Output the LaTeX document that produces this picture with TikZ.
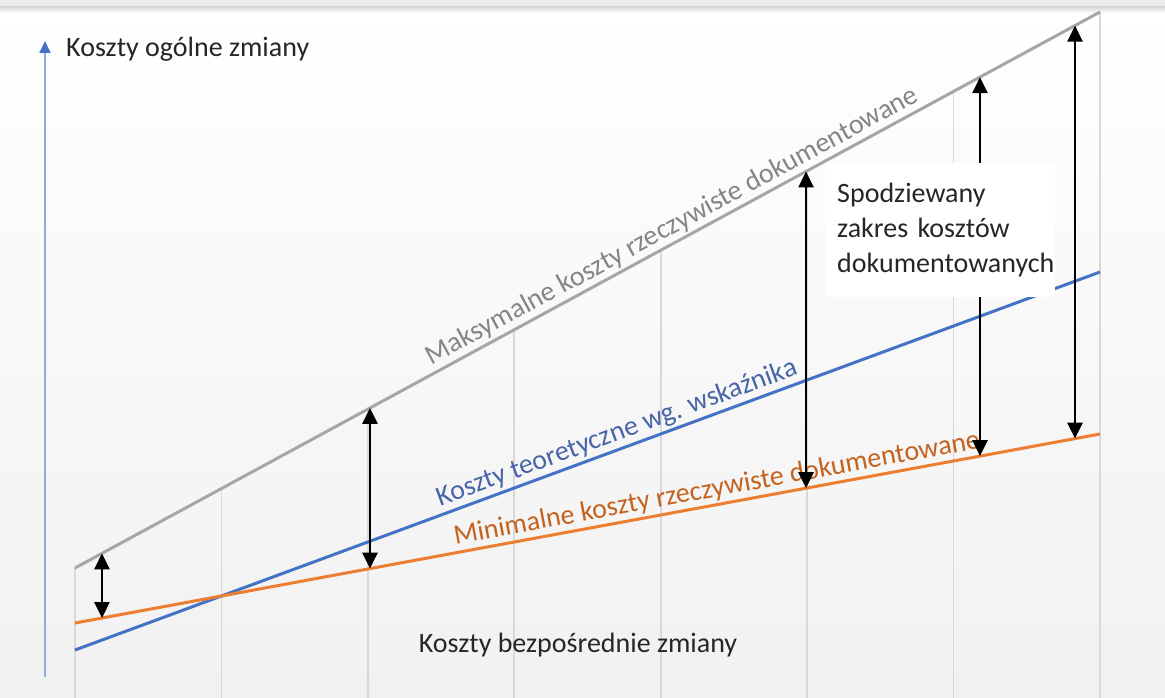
\documentclass[tikz,border=0pt]{standalone}
\usepackage{fontspec}
\setmainfont{Carlito}
\usetikzlibrary{arrows.meta,calc}
\definecolor{maxgray}{HTML}{A6A6A6}
\definecolor{maxtext}{HTML}{858585}
\definecolor{teoblue}{HTML}{4472C4}
\definecolor{teotext}{HTML}{4865A8}
\definecolor{minorange}{HTML}{ED7D31}
\definecolor{mintext}{HTML}{C5621E}
\definecolor{gridgray}{HTML}{D9D9D9}
\definecolor{bgbottom}{HTML}{F1F1F1}
\definecolor{txtdark}{HTML}{262626}
\definecolor{axisblue}{HTML}{8FAADC}

\begin{document}
\begin{tikzpicture}[x=1pt,y=-1pt,
  font=\fontsize{28}{35}\selectfont,
  costline/.style={line width=3pt},
  gridline/.style={gridgray,line width=1.6pt},
  rangearrow/.style={black,line width=2.6pt,
    {Triangle[length=16pt,width=15pt]}-{Triangle[length=16pt,width=15pt]}},
  linelabel/.style={sloped,above,inner sep=2pt}]
  \useasboundingbox (0,0) rectangle (1165,698);

  %background
  \fill[top color=white,bottom color=bgbottom] (0,0) rectangle (1165,698);
  \fill[gray!15] (0,0) rectangle (1165,7);
  \fill[top color=gray!30,bottom color=white] (0,7) rectangle (1165,13);

  %end points of the three cost lines
  \coordinate (maxA) at (75,568);
  \coordinate (maxB) at (1100,12);
  \coordinate (teoA) at (75,650);
  \coordinate (teoB) at (1100,272);
  \coordinate (minA) at (75,623);
  \coordinate (minB) at (1100,434);
  \coordinate (bot) at (0,698);

  %grid below the grey line
  \foreach \i in {0,...,7} {
    \coordinate (g\i) at ($(maxA)!\i/7!(maxB)$);
    \draw[gridline] (g\i) -- (g\i |- bot);
  }

  %axis
  \coordinate (axbot) at (45,677);
  \coordinate (axtop) at (45,41);
  \draw[axisblue,line width=2pt,-{Triangle[length=12pt,width=11pt,color=teoblue]}]
    (axbot) -- (axtop);
  \node[anchor=west,inner sep=2pt,text=txtdark] (ylab) at (64,49) {Koszty ogólne zmiany};
  \node[inner sep=2pt,text=txtdark] (xlab) at (578,645) {Koszty bezpośrednie\ zmiany};

  %cost lines
  \draw[costline,maxgray] (maxA) -- node[linelabel,pos=0.59,text=maxtext]
    {Maksymalne koszty rzeczywiste dokumentowane} (maxB);
  \draw[costline,teoblue] (teoA) -- node[linelabel,pos=0.534,text=teotext]
    {Koszty teoretyczne wg. wskaźnika} (teoB);
  \draw[costline,minorange] (minA) -- node[linelabel,pos=0.629,text=mintext]
    {Minimalne koszty rzeczywiste dokumentowane} (minB);

  %range arrows
  \foreach \t/\n in {0.0263/a, 0.2878/b, 0.7132/c, 0.8829/d, 0.9756/e} {
    \coordinate (top\n) at ($(maxA)!\t!(maxB)$);
    \coordinate (low\n) at ($(minA)!\t!(minB)$);
    \draw[rangearrow] (top\n) -- (low\n);
  }

  %range label
  \node[fill=white,anchor=north west,minimum width=230pt,minimum height=134pt,
    text width=206pt,inner sep=12pt,align=left,text=txtdark] (zakres) at (825,163)
    {Spodziewany\\zakres kosztów\\dokumentowanych};
\end{tikzpicture}
\end{document}
